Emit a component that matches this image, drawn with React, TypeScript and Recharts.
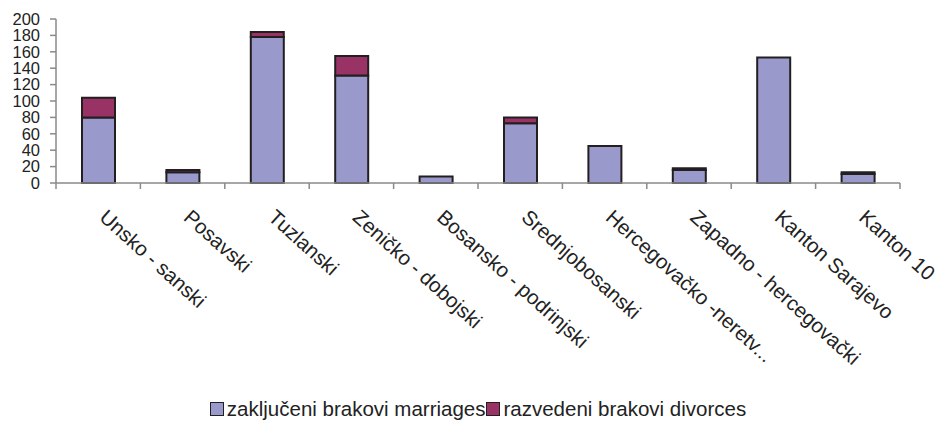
import { Bar, BarChart, Legend, XAxis, YAxis } from "recharts";

const categories = [
  "Unsko - sanski",
  "Posavski",
  "Tuzlanski",
  "Zeničko - dobojski",
  "Bosansko - podrinjski",
  "Srednjobosanski",
  "Hercegovačko -neretv...",
  "Zapadno - hercegovački",
  "Kanton Sarajevo",
  "Kanton 10",
];
const marriages = [80, 13, 178, 131, 8, 73, 45, 16, 153, 11];
const divorces = [24, 3, 6, 24, 0, 7, 0, 2, 0, 2];
const yTicks = [0, 20, 40, 60, 80, 100, 120, 140, 160, 180, 200];

const seriesNames = {
  marriages: "zaključeni brakovi marriages",
  divorces: "razvedeni brakovi divorces",
};

const data = categories.map((name, i) => ({
  name,
  marriages: marriages[i],
  divorces: divorces[i],
}));

const FONT = "'Liberation Sans', Arial, sans-serif";
const MARRIAGE_FILL = "#9999cc";
const DIVORCE_FILL = "#993366";
const OUTLINE = "#231f20";
const AXIS = "#8a8a8a";

function CategoryTick(props: any) {
  const { x, y, payload, index, visibleTicksCount, width } = props;
  const half = payload?.offset || width / visibleTicksCount / 2;
  const last = index === visibleTicksCount - 1;
  return (
    <g>
      <line x1={x - half} x2={x - half} y1={y} y2={y + 6} stroke={AXIS} strokeWidth={1.5} />
      {last && <line x1={x + half} x2={x + half} y1={y} y2={y + 6} stroke={AXIS} strokeWidth={1.5} />}
      <text
        transform={`translate(${x},${y + 36}) rotate(42)`}
        textAnchor="start"
        fontSize={20.5}
        fontFamily={FONT}
        fill="#222"
      >
        {payload.value}
      </text>
    </g>
  );
}

function LegendRow() {
  const item = (color: string, label: string) => (
    <span style={{ display: "inline-flex", alignItems: "center" }}>
      <span
        style={{
          width: 12,
          height: 12,
          background: color,
          border: `1.5px solid ${OUTLINE}`,
          marginRight: 3,
        }}
      />
      <span>{label}</span>
    </span>
  );
  return (
    <div
      style={{
        height: 24,
        display: "flex",
        alignItems: "center",
        justifyContent: "center",
        paddingLeft: 56,
        fontFamily: FONT,
        fontSize: 20.5,
        color: "#222",
        gap: 1,
      }}
    >
      {item(MARRIAGE_FILL, seriesNames.marriages)}
      {item(DIVORCE_FILL, seriesNames.divorces)}
    </div>
  );
}

export default function App() {
  return (
    <div style={{ position: "absolute", left: 0, top: 0, background: "#fff" }}>
      <BarChart
        width={941}
        height={421}
        data={data}
        margin={{ top: 19, right: 41, bottom: 0, left: 0 }}
      >
        <XAxis
          dataKey="name"
          interval={0}
          height={214}
          tickLine={false}
          tickSize={0}
          tickMargin={0}
          axisLine={{ stroke: AXIS, strokeWidth: 1.5 }}
          tick={<CategoryTick />}
        />
        <YAxis
          width={56}
          domain={[0, 200]}
          ticks={yTicks}
          interval={0}
          tickSize={6}
          tickMargin={10}
          axisLine={{ stroke: AXIS, strokeWidth: 1.5 }}
          tickLine={{ stroke: AXIS, strokeWidth: 1.5 }}
          tick={{ fill: "#222", fontSize: 16.5, fontFamily: FONT }}
        />
        <Legend verticalAlign="bottom" content={() => <LegendRow />} />
        <Bar
          dataKey="marriages"
          name={seriesNames.marriages}
          stackId="a"
          fill={MARRIAGE_FILL}
          stroke={OUTLINE}
          strokeWidth={2}
          barSize={33}
          isAnimationActive={false}
        />
        <Bar
          dataKey="divorces"
          name={seriesNames.divorces}
          stackId="a"
          fill={DIVORCE_FILL}
          stroke={OUTLINE}
          strokeWidth={2}
          barSize={33}
          isAnimationActive={false}
        />
      </BarChart>
    </div>
  );
}
